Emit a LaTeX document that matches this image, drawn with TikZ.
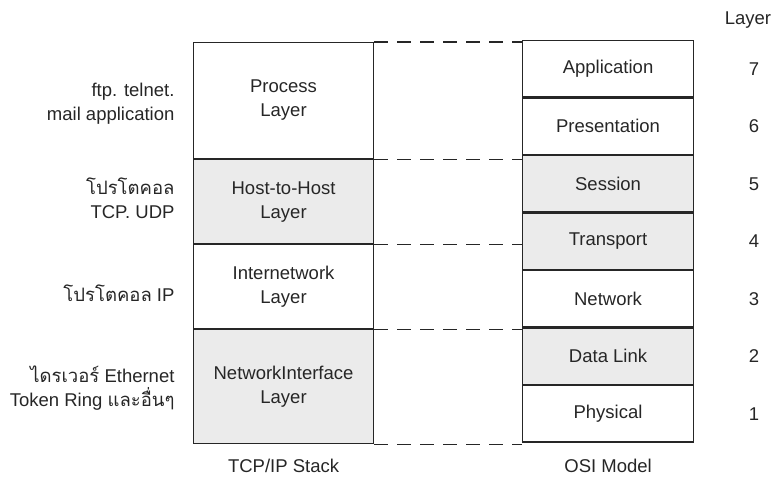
\documentclass[tikz,border=0pt]{standalone}
\usepackage{fontspec}
\setmainfont{Liberation Sans}
\newfontfamily\thai[Script=Thai]{Loma}
\begin{document}
\begin{tikzpicture}[x=1pt,y=-1pt,
  txt/.style={font=\fontsize{18.5}{24}\selectfont, text=black!85},
  lbox/.style={draw=black!85, line width=1.1pt, minimum width=180pt, inner sep=0pt, txt, align=center},
  rbox/.style={draw=black!85, line width=1.1pt, minimum width=171pt, minimum height=56.4pt, inner sep=0pt, txt},
  shade/.style={fill=black!8},
  dashline/.style={draw=black!85, line width=1.1pt, dash pattern=on 14pt off 9pt},
  side/.style={txt, anchor=east, align=right}]
\useasboundingbox (0,0) rectangle (774,479);
% TCP/IP stack
\node[lbox, minimum height=116pt, anchor=north west] (proc) at (193,42) {Process\\Layer};
\node[lbox, shade, minimum height=84pt, anchor=north] (host) at (proc.south) {Host-to-Host\\Layer};
\node[lbox, minimum height=84pt, anchor=north] (inet) at (host.south) {Internetwork\\Layer};
\node[lbox, shade, minimum height=114pt, anchor=north] (nif) at (inet.south) {NetworkInterface\\Layer};
% OSI model
\node[rbox, anchor=north west] (app) at (522,40) {Application};
\node[rbox, anchor=north] (pres) at (app.south) {Presentation};
\node[rbox, shade, anchor=north] (sess) at (pres.south) {Session};
\node[rbox, shade, anchor=north] (trans) at (sess.south) {Transport};
\node[rbox, anchor=north] (net) at (trans.south) {Network};
\node[rbox, shade, anchor=north] (dl) at (net.south) {Data Link};
\node[rbox, anchor=north] (phy) at (dl.south) {Physical};
% dashed correspondences
\draw[dashline] (proc.north east) -- (proc.north east -| app.west);
\draw[dashline] (proc.south east) -- (proc.south east -| sess.west);
\draw[dashline] (host.south east) -- (host.south east -| trans.west);
\draw[dashline] (inet.south east) -- (inet.south east -| dl.west);
\draw[dashline] (nif.south east) -- (nif.south east -| phy.west);
% captions
\node[txt] (tcpcap) at (nif.south |- 0,466) {TCP/IP Stack};
\node[txt] (osicap) at (phy.south |- 0,466) {OSI Model};
\node[txt] (laycap) at (748,20) {Layer};
\foreach \n/\r in {7/app,6/pres,5/sess,4/trans,3/net,2/dl,1/phy}
  \node[txt] (num\n) at (754,0 |- \r.center) {\n};
% side notes
\node[side] (s1) at (178,104) {ftp. telnet.\\mail application};
\node[side] (s2) at (178,198) {{\thai โปรโตคอล}\\TCP. UDP};
\node[side] (s3) at (178,293) {{\thai โปรโตคอล} IP};
\node[side] (s4) at (178,388) {{\thai ไดรเวอร์} Ethernet\\Token Ring {\thai และอื่นๆ}};
\end{tikzpicture}
\end{document}
